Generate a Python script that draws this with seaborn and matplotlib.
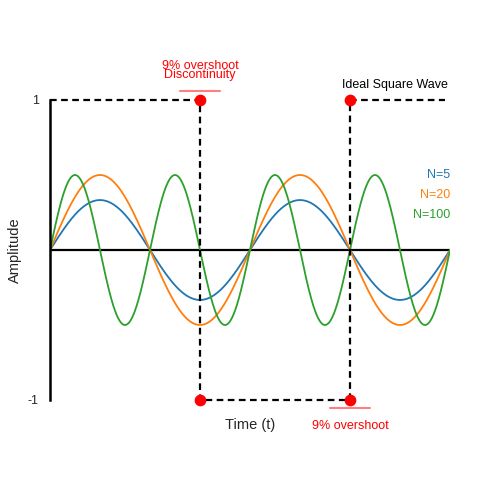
import numpy as np
import pandas as pd
import matplotlib
matplotlib.use('Agg')
import matplotlib.pyplot as plt
import seaborn as sns

# Curve parameters (x spans 0..4)
series_labels = ["N=5", "N=20", "N=100"]
series_amplitudes = [0.333, 0.5, 0.5]
series_periods = [2.0, 2.0, 1.0]
series_colors = ["#1f77b4", "#ff7f0e", "#2ca02c"]

# Ideal square wave corners
square_x = [0.0, 1.5, 1.5, 3.0, 3.0, 3.95]
square_y = [1, 1, -1, -1, 1, 1]
corner_x = [1.5, 1.5, 3.0, 3.0]
corner_y = [1, -1, -1, 1]

ytick_values = [-1, 1]
ytick_labels = ["-1", "1"]

t = np.linspace(0, 4, 800)
rows = []
for label, amp, per in zip(series_labels, series_amplitudes, series_periods):
    rows.append(pd.DataFrame({"t": t, "amp": amp * np.sin(2 * np.pi * t / per), "series": label}))
df = pd.concat(rows, ignore_index=True)

sns.set_theme(style="white")
plt.rcParams['font.family'] = ['Liberation Sans', 'DejaVu Sans']

fig = plt.figure(figsize=(5, 5), dpi=100)
ax = fig.add_axes([0.1, 0.2, 0.8, 0.6])

ax.axhline(0, color="black", lw=1.6, zorder=1)

sns.lineplot(data=df, x="t", y="amp", hue="series", hue_order=series_labels,
             palette=series_colors, lw=1.3, legend=False, ax=ax, zorder=2)

ax.plot(square_x, square_y, color="black", lw=1.6, linestyle=(0, (3, 2)),
        zorder=3, clip_on=False)
ax.scatter(corner_x, corner_y, color="red", s=55, zorder=4, clip_on=False)

# overshoot markers
ax.plot([1.3, 1.7], [1.06, 1.06], color="red", alpha=0.5, lw=1.5, clip_on=False)
ax.plot([2.8, 3.2], [-1.053, -1.053], color="red", alpha=0.5, lw=1.5, clip_on=False)
ax.text(1.5, 1.225, "9% overshoot", color="red", ha="center", va="center", fontsize=9)
ax.text(1.5, 1.165, "Discontinuity", color="red", ha="center", va="center", fontsize=9)
ax.text(3.0, -1.175, "9% overshoot", color="red", ha="center", va="center", fontsize=9)
ax.text(3.45, 1.1, "Ideal Square Wave", color="black", ha="center", va="center", fontsize=9)

for label, color, yy in zip(series_labels, series_colors, [0.5, 0.367, 0.233]):
    ax.text(4.0, yy, label, color=color, ha="right", va="center", fontsize=9)

ax.text(2.0, -1.167, "Time (t)", ha="center", va="center", fontsize=10.5)
ax.text(-0.35, 0, "Amplitude", ha="center", va="center", rotation=90, fontsize=10.5)

ax.set_xlim(0, 4)
ax.set_ylim(-1, 1)
ax.set_xticks([])
ax.set_yticks(ytick_values)
ax.set_yticklabels(ytick_labels)
ax.tick_params(axis="y", direction="in", length=7, width=1.5, color="grey", pad=8, labelsize=9)
ax.set_xlabel("")
ax.set_ylabel("")
for side in ["top", "right", "bottom"]:
    ax.spines[side].set_visible(False)
ax.spines["left"].set_color("black")
ax.spines["left"].set_linewidth(1.8)

fig.savefig("out.png", dpi=100)
plt.close(fig)
